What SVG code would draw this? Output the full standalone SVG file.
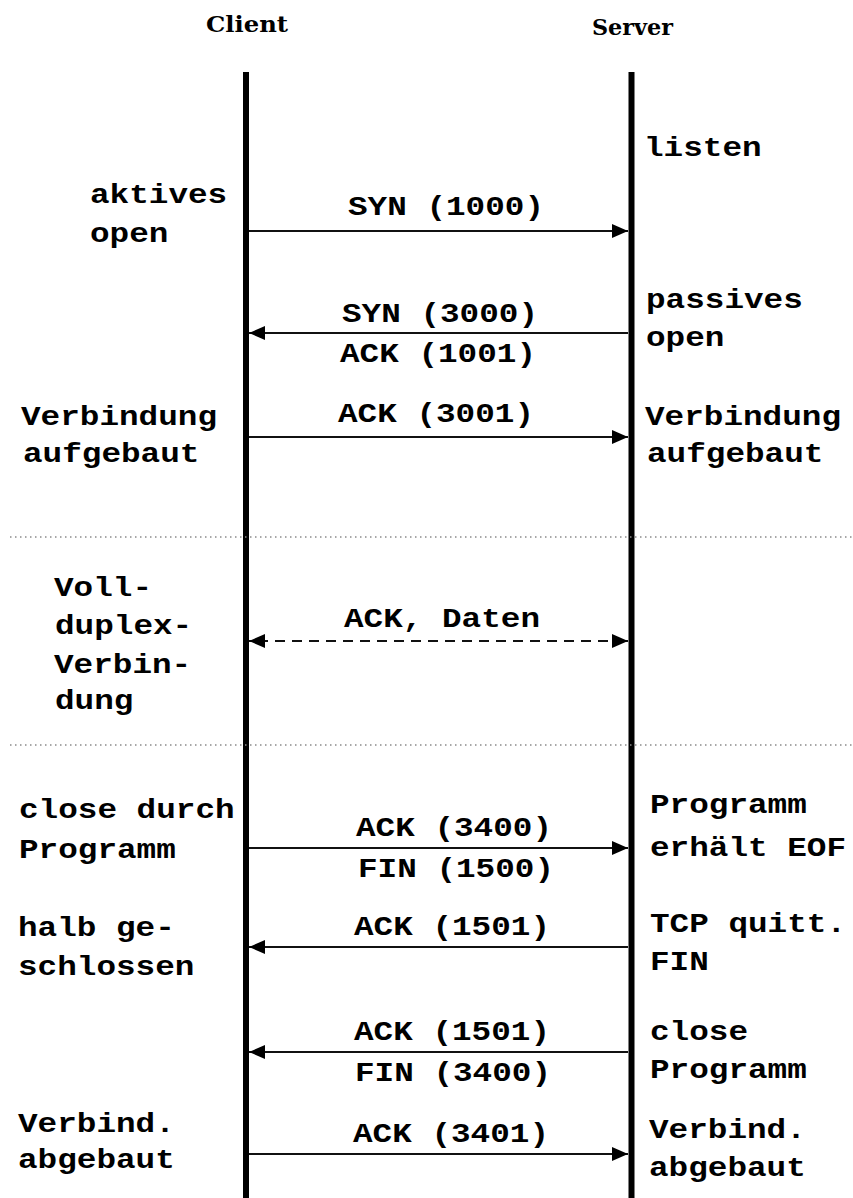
<svg xmlns="http://www.w3.org/2000/svg" width="853" height="1198" viewBox="0 0 853 1198">
<style>
.t{font-family:"Liberation Mono","Courier New",monospace;font-weight:bold;font-size:28px;fill:#000}
.m{text-anchor:middle}
.h{font-family:"DejaVu Serif","Liberation Serif",serif;font-weight:bold;font-size:22px;fill:#000}
.life{stroke:#000;stroke-width:6;fill:none}
.msg{stroke:#111;stroke-width:2;fill:none}
.dash{stroke-dasharray:10 7}
.sep{stroke:#8a8a8a;stroke-width:1.5;stroke-dasharray:1.5 3.5;fill:none}
</style>
<defs>
<marker id="ah" markerUnits="userSpaceOnUse" markerWidth="18" markerHeight="16" refX="16" refY="7" orient="auto">
<path d="M0,0 L16,7 L0,14 z" fill="#000"/>
</marker>
</defs>
<rect width="853" height="1198" fill="#fff"/>

<g id="client">
<text class="h" x="206" y="32" textLength="82" lengthAdjust="spacingAndGlyphs">Client</text>
<line class="life" x1="246" y1="72" x2="246" y2="1198"/>
</g>
<g id="server">
<text class="h" x="592" y="35" textLength="81" lengthAdjust="spacingAndGlyphs">Server</text>
<line class="life" x1="631.5" y1="72" x2="631.5" y2="1198"/>
</g>

<g id="separators">
<line class="sep" x1="10" y1="537" x2="853" y2="537"/>
<line class="sep" x1="10" y1="745" x2="853" y2="745"/>
</g>

<g id="note-aktives-open">
<text class="t" x="90" y="203" textLength="137.2" lengthAdjust="spacingAndGlyphs">aktives</text>
<text class="t" x="90" y="242" textLength="78.4" lengthAdjust="spacingAndGlyphs">open</text>
</g>
<g id="note-listen">
<text class="t" x="644" y="156" textLength="117.6" lengthAdjust="spacingAndGlyphs">listen</text>
</g>
<g id="note-passives-open">
<text class="t" x="646" y="308" textLength="156.8" lengthAdjust="spacingAndGlyphs">passives</text>
<text class="t" x="646" y="346" textLength="78.4" lengthAdjust="spacingAndGlyphs">open</text>
</g>
<g id="note-client-aufgebaut">
<text class="t" x="21" y="425" textLength="196" lengthAdjust="spacingAndGlyphs">Verbindung</text>
<text class="t" x="23" y="462" textLength="176.4" lengthAdjust="spacingAndGlyphs">aufgebaut</text>
</g>
<g id="note-server-aufgebaut">
<text class="t" x="645" y="425" textLength="196" lengthAdjust="spacingAndGlyphs">Verbindung</text>
<text class="t" x="647" y="462" textLength="176.4" lengthAdjust="spacingAndGlyphs">aufgebaut</text>
</g>
<g id="note-vollduplex">
<text class="t" x="54" y="596" textLength="98" lengthAdjust="spacingAndGlyphs">Voll-</text>
<text class="t" x="55" y="634" textLength="137.2" lengthAdjust="spacingAndGlyphs">duplex-</text>
<text class="t" x="54" y="673" textLength="137.2" lengthAdjust="spacingAndGlyphs">Verbin-</text>
<text class="t" x="55" y="709" textLength="78.4" lengthAdjust="spacingAndGlyphs">dung</text>
</g>
<g id="note-close-durch">
<text class="t" x="19" y="818" textLength="215.6" lengthAdjust="spacingAndGlyphs">close durch</text>
<text class="t" x="19" y="858" textLength="156.8" lengthAdjust="spacingAndGlyphs">Programm</text>
</g>
<g id="note-eof">
<text class="t" x="650" y="813" textLength="156.8" lengthAdjust="spacingAndGlyphs">Programm</text>
<text class="t" x="650" y="856" textLength="196" lengthAdjust="spacingAndGlyphs">erhält EOF</text>
</g>
<g id="note-halb">
<text class="t" x="18" y="936" textLength="156.8" lengthAdjust="spacingAndGlyphs">halb ge-</text>
<text class="t" x="18" y="975" textLength="176.4" lengthAdjust="spacingAndGlyphs">schlossen</text>
</g>
<g id="note-tcp">
<text class="t" x="650" y="932" textLength="196" lengthAdjust="spacingAndGlyphs">TCP quitt.</text>
<text class="t" x="650" y="970" textLength="58.8" lengthAdjust="spacingAndGlyphs">FIN</text>
</g>
<g id="note-close">
<text class="t" x="650" y="1040" textLength="98" lengthAdjust="spacingAndGlyphs">close</text>
<text class="t" x="650" y="1078" textLength="156.8" lengthAdjust="spacingAndGlyphs">Programm</text>
</g>
<g id="note-client-abgebaut">
<text class="t" x="18" y="1132" textLength="156.8" lengthAdjust="spacingAndGlyphs">Verbind.</text>
<text class="t" x="18" y="1168" textLength="156.8" lengthAdjust="spacingAndGlyphs">abgebaut</text>
</g>
<g id="note-server-abgebaut">
<text class="t" x="649" y="1138" textLength="156.8" lengthAdjust="spacingAndGlyphs">Verbind.</text>
<text class="t" x="649" y="1176" textLength="156.8" lengthAdjust="spacingAndGlyphs">abgebaut</text>
</g>

<g id="connectors">
<line class="msg" x1="249" y1="231" x2="628" y2="231" marker-end="url(#ah)"/>
<text class="t m" x="446" y="215" textLength="196" lengthAdjust="spacingAndGlyphs">SYN (1000)</text>

<line class="msg" x1="628" y1="333" x2="249" y2="333" marker-end="url(#ah)"/>
<text class="t m" x="440" y="322" textLength="196" lengthAdjust="spacingAndGlyphs">SYN (3000)</text>
<text class="t m" x="438" y="362" textLength="196" lengthAdjust="spacingAndGlyphs">ACK (1001)</text>

<line class="msg" x1="249" y1="437" x2="628" y2="437" marker-end="url(#ah)"/>
<text class="t m" x="436" y="422" textLength="196" lengthAdjust="spacingAndGlyphs">ACK (3001)</text>

<line class="msg dash" x1="258" y1="641" x2="619" y2="641"/>
<line class="msg" x1="262" y1="641" x2="249" y2="641" marker-end="url(#ah)"/>
<line class="msg" x1="615" y1="641" x2="628" y2="641" marker-end="url(#ah)"/>
<text class="t m" x="442" y="627" textLength="196" lengthAdjust="spacingAndGlyphs">ACK, Daten</text>

<line class="msg" x1="249" y1="848" x2="628" y2="848" marker-end="url(#ah)"/>
<text class="t m" x="454" y="836" textLength="196" lengthAdjust="spacingAndGlyphs">ACK (3400)</text>
<text class="t m" x="456" y="877" textLength="196" lengthAdjust="spacingAndGlyphs">FIN (1500)</text>

<line class="msg" x1="628" y1="947" x2="249" y2="947" marker-end="url(#ah)"/>
<text class="t m" x="452" y="935" textLength="196" lengthAdjust="spacingAndGlyphs">ACK (1501)</text>

<line class="msg" x1="628" y1="1052" x2="249" y2="1052" marker-end="url(#ah)"/>
<text class="t m" x="452" y="1040" textLength="196" lengthAdjust="spacingAndGlyphs">ACK (1501)</text>
<text class="t m" x="453" y="1081" textLength="196" lengthAdjust="spacingAndGlyphs">FIN (3400)</text>

<line class="msg" x1="249" y1="1154" x2="628" y2="1154" marker-end="url(#ah)"/>
<text class="t m" x="451" y="1142" textLength="196" lengthAdjust="spacingAndGlyphs">ACK (3401)</text>
</g>
</svg>
